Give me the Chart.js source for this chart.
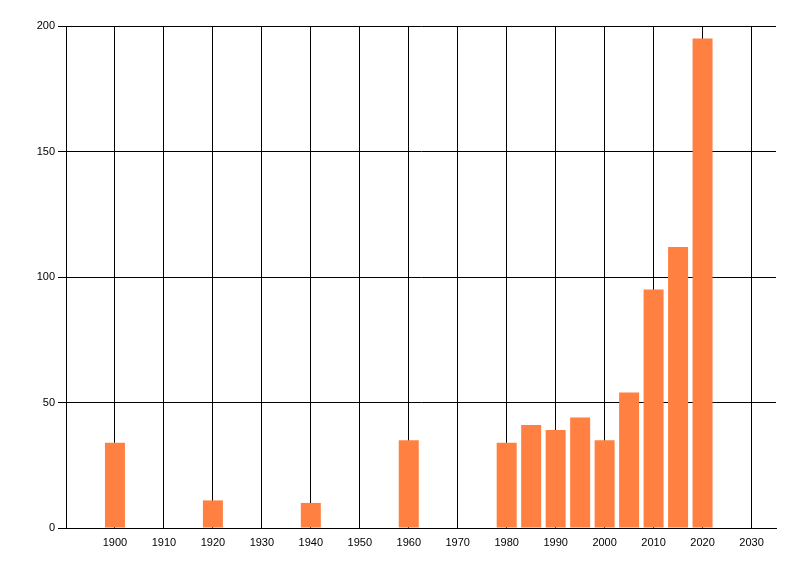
<!DOCTYPE html>
<html>
<head>
<meta charset="utf-8">
<script src="https://cdn.jsdelivr.net/npm/chart.js@4"></script>
<style>
  html, body { margin: 0; padding: 0; background: #fff; }
  #wrap { width: 800px; height: 576px; }
</style>
</head>
<body>
<div id="wrap"><canvas id="barChart"></canvas></div>
<script>
// values
const years = [1900, 1920, 1940, 1960, 1980, 1985, 1990, 1995, 2000, 2005, 2010, 2015, 2020];
const counts = [34, 11, 10, 35, 34, 41, 39, 44, 35, 54, 95, 112, 195];
const xTicks = [1900, 1910, 1920, 1930, 1940, 1950, 1960, 1970, 1980, 1990, 2000, 2010, 2020, 2030];
const yTicks = [0, 50, 100, 150, 200];

document.addEventListener('DOMContentLoaded', function () {
    Chart.defaults.font.family = '"Liberation Sans", Arial, sans-serif';
    Chart.defaults.font.size = 11;
    Chart.defaults.color = '#000';

    const ctx = document.getElementById('barChart');
    new Chart(ctx, {
        type: 'bar',
        data: {
            datasets: [{
                data: years.map((y, i) => ({ x: y, y: counts[i] })),
                backgroundColor: '#ff8040',
                borderWidth: 0,
                barPercentage: 1,
                categoryPercentage: 0.817
            }]
        },
        options: {
            responsive: true,
            maintainAspectRatio: false,
            animation: false,
            layout: { padding: { top: 26, right: 24, left: 0, bottom: 0 } },
            plugins: {
                legend: { display: false },
                tooltip: { enabled: false }
            },
            scales: {
                x: {
                    type: 'linear',
                    min: 1890,
                    max: 2035,
                    offset: false,
                    afterBuildTicks: axis => { axis.ticks = xTicks.map(v => ({ value: v })); },
                    afterFit: axis => { axis.height = 48; },
                    grid: { color: '#000', lineWidth: 1, drawTicks: false, offset: false },
                    border: { color: '#000', width: 1 },
                    ticks: { padding: 8, maxRotation: 0, autoSkip: false, callback: v => String(v) }
                },
                y: {
                    min: 0,
                    max: 200,
                    afterBuildTicks: axis => { axis.ticks = yTicks.map(v => ({ value: v })); },
                    afterFit: axis => { axis.width = 66; },
                    grid: { color: '#000', lineWidth: 1, drawTicks: true, tickLength: 8 },
                    border: { color: '#000', width: 1 },
                    ticks: { padding: 3 }
                }
            }
        }
    });
});
</script>
</body>
</html>
